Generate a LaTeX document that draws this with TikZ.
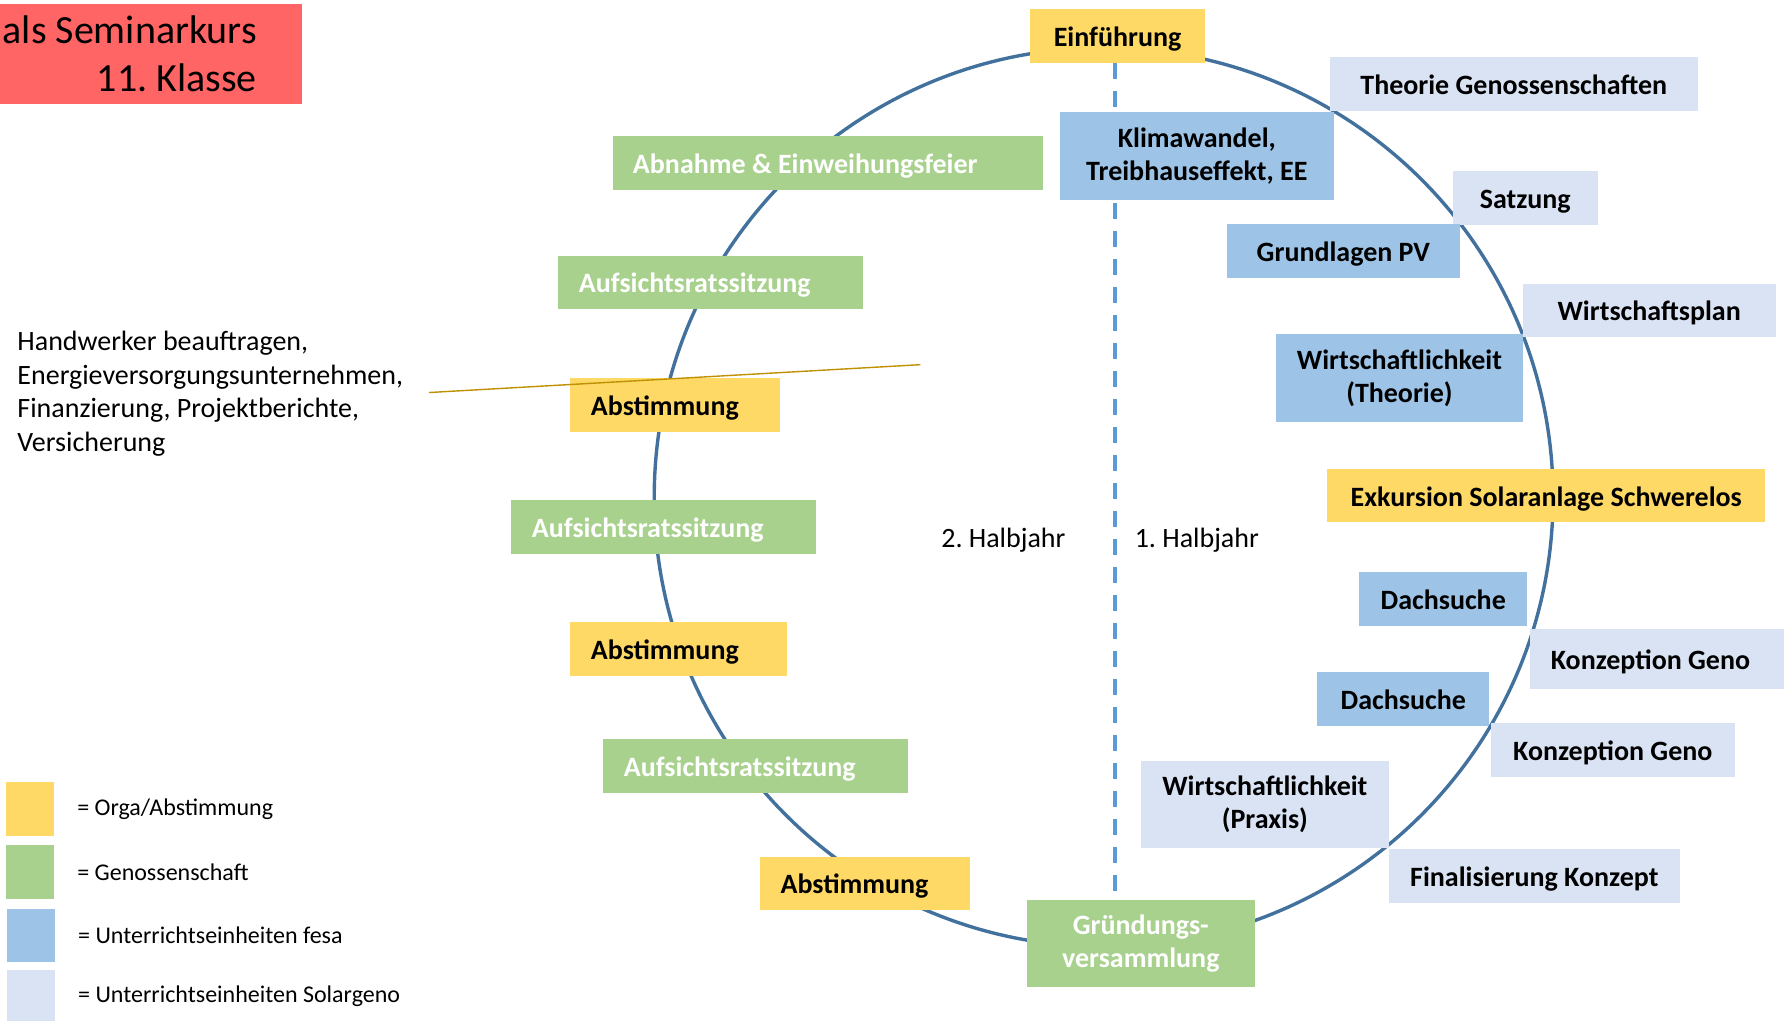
\documentclass[tikz,border=0pt]{standalone}
\usepackage{fontspec}
\setmainfont{Carlito}
\frenchspacing
\usetikzlibrary{backgrounds,positioning}
\definecolor{orga}{HTML}{FFD966}
\definecolor{geno}{HTML}{A9D18E}
\definecolor{fesa}{HTML}{9DC3E6}
\definecolor{solar}{HTML}{DAE3F3}
\definecolor{titel}{HTML}{FF6565}
\definecolor{ring}{HTML}{41719C}
\definecolor{halb}{HTML}{5B9BD5}
\definecolor{gold}{HTML}{BF9000}
\tikzstyle{box}=[rectangle, inner sep=0pt, align=center, font=\fontsize{14}{16.8}\selectfont\bfseries]
\tikzstyle{one}=[minimum height=0.94cm, text height=12.6pt, text depth=2.2pt]
\tikzstyle{two}=[minimum height=1.54cm]
\tikzstyle{lft}=[anchor=west, inner xsep=0.36cm, align=flush left]
\tikzstyle{org}=[box, fill=orga]
\tikzstyle{gen}=[box, fill=geno, text=white]
\tikzstyle{fes}=[box, fill=fesa]
\tikzstyle{sol}=[box, fill=solar]
\tikzstyle{txt}=[inner sep=0pt, font=\fontsize{14}{16.7}\selectfont]
\tikzstyle{lgd}=[inner sep=0pt, font=\fontsize{12}{14}\selectfont]
\tikzstyle{sq}=[rectangle, inner sep=0pt, minimum width=0.84cm, minimum height=0.94cm]

\begin{document}
\begin{tikzpicture}[x=0.02cm, y=-0.02cm, label distance=11.3pt]
        \useasboundingbox (0,0) rectangle (1568,897);
        %
        \node at (266,3) [anchor=north east, fill=titel, inner xsep=0.8cm, inner ysep=0pt, minimum height=1.76cm,
          text width=5.2cm, align=flush right, font=\fontsize{20}{24.2}\selectfont] (ttl) {als Seminarkurs\\11. Klasse};
        % 2. Halbjahr
        \node at (538,143.2) [gen, one, lft, text width=6.85cm] (abn) {Abnahme \& Einweihungsfeier};
        \node at (490.5,248.1) [gen, one, lft, text width=4.63cm] (ars1) {Aufsichtsratssitzung};
        \node at (501,356) [org, one, lft, text width=2.96cm] (abs1) {Abstimmung};
        \node at (449.2,463.1) [gen, one, lft, text width=4.63cm] (ars2) {Aufsichtsratssitzung};
        \node at (501,570.4) [org, one, lft, text width=3.09cm] (abs2) {Abstimmung};
        \node at (530,673.4) [gen, one, lft, text width=4.63cm] (ars3) {Aufsichtsratssitzung};
        \node at (667.7,776.3) [org, one, lft, text width=2.97cm] (abs3) {Abstimmung};
        \node at (1002.7,829.2) [gen, two, minimum width=4.02cm] (grd) {Gründungs-\\versammlung};
        % 1. Halbjahr
        \node at (982.2,31.5) [org, one, minimum width=3.08cm] (ein) {Einführung};
        \node at (1051.9,137.2) [fes, two, minimum width=4.82cm] (kli) {Klimawandel,\\Treibhauseffekt, EE};
        \node at (1330.5,73.7) [sol, one, minimum width=6.47cm] (thg) {Theorie Genossenschaften};
        \node at (1340.6,174) [sol, one, minimum width=2.55cm] (sat) {Satzung};
        \node at (1180.7,220.6) [fes, one, minimum width=4.1cm] (gpv) {Grundlagen PV};
        \node at (1449.5,272.7) [sol, one, minimum width=4.45cm] (wpl) {Wirtschaftsplan};
        \node at (1230,332.4) [fes, two, minimum width=4.33cm] (wth) {Wirtschaftlichkeit\\(Theorie)};
        \node at (1359,435.8) [org, one, minimum width=7.71cm, minimum height=0.93cm] (exk) {Exkursion Solaranlage Schwerelos};
        \node at (1268.5,526.5) [fes, one, minimum width=2.96cm] (da1) {Dachsuche};
        \node at (1344.7,579.3) [sol, one, lft, text width=3.88cm, minimum height=1.05cm] (ko1) {Konzeption Geno};
        \node at (1233.4,614.5) [fes, one, minimum width=3.03cm] (da2) {Dachsuche};
        \node at (1417.5,659.3) [sol, one, minimum width=4.29cm] (ko2) {Konzeption Geno};
        \node at (1111.7,706.9) [sol, two, minimum width=4.35cm] (wpr) {Wirtschaftlichkeit\\(Praxis)};
        \node at (1348.5,770.1) [sol, one, minimum width=5.11cm] (fin) {Finalisierung Konzept};
        %
        \node at (827,481) [txt, anchor=base west] (hj2) {2. Halbjahr};
        \node at (997,481) [txt, anchor=base west] (hj1) {1. Halbjahr};
        \node at (15,346) [txt, anchor=west, align=left] (hw) {Handwerker beauftragen,\\Energieversorgungsunternehmen,\\Finanzierung, Projektberichte,\\Versicherung};
        % Legende
        \node at (26.4,711) [sq, fill=orga, label={[lgd]right:= Orga/Abstimmung}] (lg1) {};
        \node at (26.4,766.5) [sq, fill=geno, label={[lgd]right:= Genossenschaft}] (lg2) {};
        \node at (27.2,822) [sq, fill=fesa, label={[lgd]right:= Unterrichtseinheiten fesa}] (lg3) {};
        \node at (27.2,876) [sq, fill=solar, label={[lgd]right:= Unterrichtseinheiten Solargeno}] (lg4) {};
        %
        \coordinate (hb) at (980,786);
        \coordinate (g1) at (377,345);
        \coordinate (g2) at (809,320.5);
        \draw[gold, line width=0.7pt] (g1) -- (g2);
        \begin{pgfonlayer}{background}
          \draw[ring, line width=1.7pt] (970,437) circle (395);
          \draw[halb, line width=1.7pt, dash pattern=on 8pt off 6pt] (hb |- ein.south) -- (hb);
        \end{pgfonlayer}
\end{tikzpicture}
\end{document}
